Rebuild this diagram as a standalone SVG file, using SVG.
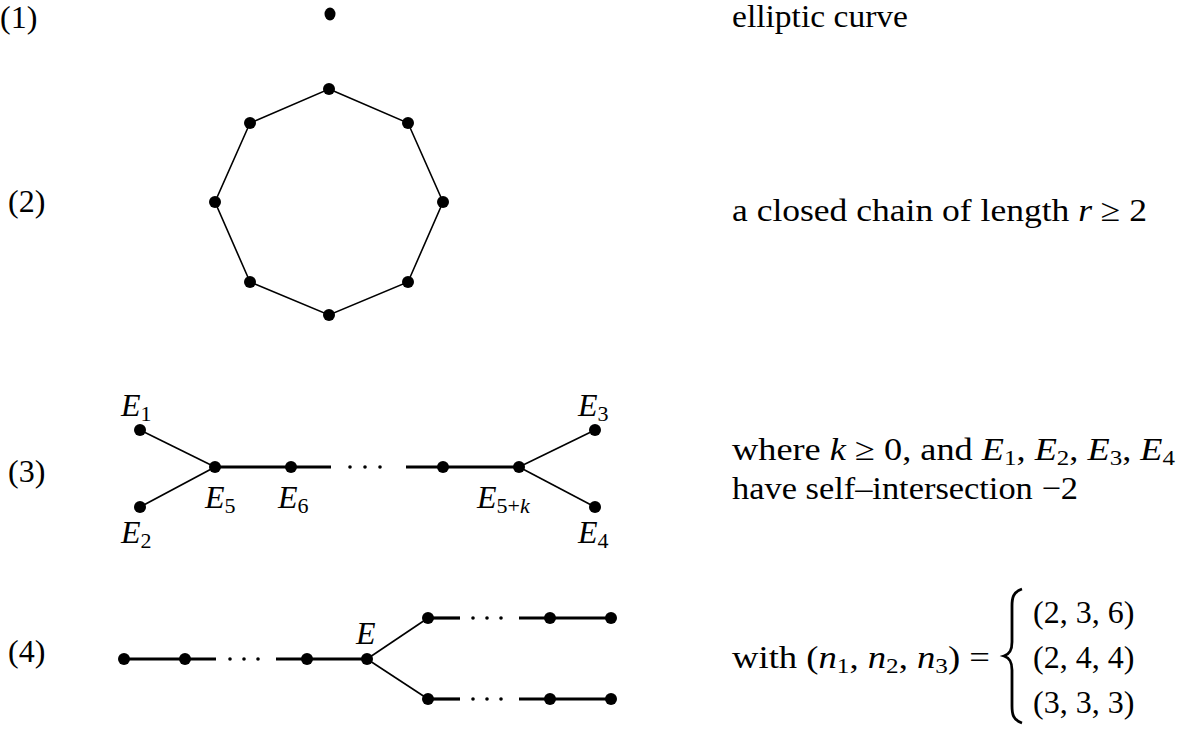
<svg xmlns="http://www.w3.org/2000/svg" width="1182" height="729" viewBox="0 0 1182 729">
<style>
text{font-family:"Liberation Serif","Times New Roman",serif;font-size:32px;fill:#000}
.it{font-style:italic}
.sub{font-size:22px;font-style:normal}
.thin{stroke:#000;stroke-width:1.6;fill:none}
.thick{stroke:#000;stroke-width:3.2;fill:none}
.dot{fill:#000}
.sd{fill:#000}
</style>
<rect width="1182" height="729" fill="#fff"/>
<!-- row labels -->
<g id="labels">
<text x="0" y="28">(1)</text>
<text x="8" y="212">(2)</text>
<text x="8" y="482">(3)</text>
<text x="8" y="662">(4)</text>
</g>
<!-- descriptions -->
<g id="desc">
<text x="732" y="27" textLength="176" lengthAdjust="spacingAndGlyphs">elliptic curve</text>
<text x="732" y="221" textLength="415" lengthAdjust="spacingAndGlyphs">a closed chain of length <tspan class="it">r</tspan> ≥ 2</text>
<text x="732" y="460" textLength="443" lengthAdjust="spacingAndGlyphs">where <tspan class="it">k</tspan> ≥ 0, and <tspan class="it">E</tspan><tspan class="sub" dy="5">1</tspan><tspan dy="-5">, </tspan><tspan class="it">E</tspan><tspan class="sub" dy="5">2</tspan><tspan dy="-5">, </tspan><tspan class="it">E</tspan><tspan class="sub" dy="5">3</tspan><tspan dy="-5">, </tspan><tspan class="it">E</tspan><tspan class="sub" dy="5">4</tspan></text>
<text x="732" y="499" textLength="346" lengthAdjust="spacingAndGlyphs">have self–intersection −2</text>
<text x="732" y="668" textLength="258" lengthAdjust="spacingAndGlyphs">with (<tspan class="it">n</tspan><tspan class="sub" dy="5">1</tspan><tspan dy="-5">, </tspan><tspan class="it">n</tspan><tspan class="sub" dy="5">2</tspan><tspan dy="-5">, </tspan><tspan class="it">n</tspan><tspan class="sub" dy="5">3</tspan><tspan dy="-5">) =</tspan></text>
<path d="M1022,589 C1013,592 1012,598 1012,606 L1012,642 C1012,650 1010,654 1004,656 C1010,658 1012,662 1012,670 L1012,706 C1012,714 1013,720 1022,723" fill="none" stroke="#000" stroke-width="2.8"/>
<text x="1033" y="623">(2, 3, 6)</text>
<text x="1033" y="668">(2, 4, 4)</text>
<text x="1033" y="713">(3, 3, 3)</text>
</g>
<!-- connectors -->
<g id="connectors">
<polygon class="thin" points="329,89 408,123 443,202 408,282 329,315 250,282 215,202 250,123"/>
<line class="thin" x1="140" y1="430" x2="215" y2="467"/>
<line class="thin" x1="140" y1="507" x2="215" y2="467"/>
<line class="thick" x1="215" y1="467" x2="331" y2="467"/>
<line class="thick" x1="406" y1="467" x2="519" y2="467"/>
<line class="thin" x1="519" y1="467" x2="595" y2="430"/>
<line class="thin" x1="519" y1="467" x2="595" y2="507"/>
<line class="thick" x1="124" y1="659" x2="216" y2="659"/>
<line class="thick" x1="276" y1="659" x2="367" y2="659"/>
<line class="thin" x1="367" y1="659" x2="428" y2="618"/>
<line class="thin" x1="367" y1="659" x2="428" y2="699"/>
<line class="thick" x1="428" y1="618" x2="460" y2="618"/>
<line class="thick" x1="519" y1="618" x2="611" y2="618"/>
<line class="thick" x1="428" y1="699" x2="460" y2="699"/>
<line class="thick" x1="519" y1="699" x2="611" y2="699"/>
<g class="sd">
<circle cx="350" cy="467" r="1.8"/><circle cx="365" cy="467" r="1.8"/><circle cx="380" cy="467" r="1.8"/>
<circle cx="230" cy="659" r="1.8"/><circle cx="244" cy="659" r="1.8"/><circle cx="258" cy="659" r="1.8"/>
<circle cx="473" cy="618" r="1.8"/><circle cx="487" cy="618" r="1.8"/><circle cx="501" cy="618" r="1.8"/>
<circle cx="473" cy="699" r="1.8"/><circle cx="487" cy="699" r="1.8"/><circle cx="501" cy="699" r="1.8"/>
</g>
</g>
<!-- nodes -->
<g id="n1"><ellipse class="dot" cx="330" cy="14" rx="5.5" ry="6.5"/></g>
<g id="oct">
<circle class="dot" cx="329" cy="89" r="6"/>
<circle class="dot" cx="408" cy="123" r="6"/>
<circle class="dot" cx="443" cy="202" r="6"/>
<circle class="dot" cx="408" cy="282" r="6"/>
<circle class="dot" cx="329" cy="315" r="6"/>
<circle class="dot" cx="250" cy="282" r="6"/>
<circle class="dot" cx="215" cy="202" r="6"/>
<circle class="dot" cx="250" cy="123" r="6"/>
</g>
<g id="E1"><circle class="dot" cx="140" cy="430" r="6"/><text x="121" y="416"><tspan class="it">E</tspan><tspan class="sub" dy="5">1</tspan></text></g>
<g id="E2"><circle class="dot" cx="140" cy="507" r="6"/><text x="121" y="543"><tspan class="it">E</tspan><tspan class="sub" dy="5">2</tspan></text></g>
<g id="E5"><circle class="dot" cx="215" cy="467" r="6"/><text x="205" y="508"><tspan class="it">E</tspan><tspan class="sub" dy="5">5</tspan></text></g>
<g id="E6"><circle class="dot" cx="291" cy="467" r="6"/><text x="278" y="508"><tspan class="it">E</tspan><tspan class="sub" dy="5">6</tspan></text></g>
<g id="Em"><circle class="dot" cx="443" cy="467" r="6"/></g>
<g id="E5k"><circle class="dot" cx="519" cy="467" r="6"/><text x="477" y="508"><tspan class="it">E</tspan><tspan class="sub" dy="5">5+<tspan font-style="italic">k</tspan></tspan></text></g>
<g id="E3"><circle class="dot" cx="595" cy="430" r="6"/><text x="578" y="416"><tspan class="it">E</tspan><tspan class="sub" dy="5">3</tspan></text></g>
<g id="E4"><circle class="dot" cx="595" cy="507" r="6"/><text x="578" y="543"><tspan class="it">E</tspan><tspan class="sub" dy="5">4</tspan></text></g>
<g id="r4">
<circle class="dot" cx="124" cy="659" r="6"/>
<circle class="dot" cx="185" cy="659" r="6"/>
<circle class="dot" cx="307" cy="659" r="6"/>
<circle class="dot" cx="428" cy="618" r="6"/>
<circle class="dot" cx="550" cy="618" r="6"/>
<circle class="dot" cx="611" cy="618" r="6"/>
<circle class="dot" cx="428" cy="699" r="6"/>
<circle class="dot" cx="550" cy="699" r="6"/>
<circle class="dot" cx="611" cy="699" r="6"/>
</g>
<g id="E"><circle class="dot" cx="367" cy="659" r="6"/><text class="it" x="356" y="644">E</text></g>
</svg>
